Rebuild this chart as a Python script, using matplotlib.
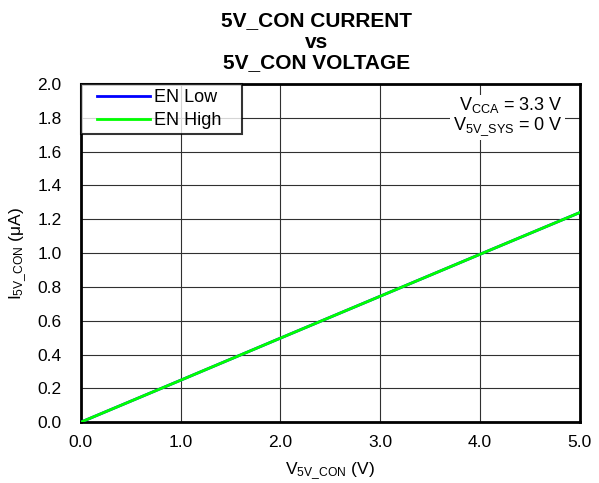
import matplotlib
matplotlib.use("Agg")
import matplotlib.pyplot as plt
import numpy as np
from matplotlib.legend_handler import HandlerLine2D
from matplotlib.lines import Line2D

plt.rcParams['font.family'] = ['Liberation Sans', 'DejaVu Sans']
plt.rcParams['mathtext.fontset'] = 'custom'
plt.rcParams['mathtext.rm'] = 'Liberation Sans'
plt.rcParams['mathtext.it'] = 'Liberation Sans'

voltage = [0.0, 1.0, 2.0, 3.0, 4.0, 5.0]
en_low = [0.0, 0.248, 0.497, 0.745, 0.993, 1.24]
en_high = [0.0, 0.248, 0.497, 0.745, 0.993, 1.24]
xticks = [0.0, 1.0, 2.0, 3.0, 4.0, 5.0]
yticks = [0.0, 0.2, 0.4, 0.6, 0.8, 1.0, 1.2, 1.4, 1.6, 1.8, 2.0]


class PaddedLineHandler(HandlerLine2D):
    def create_artists(self, legend, orig_handle, xdescent, ydescent, width,
                       height, fontsize, trans):
        arts = super().create_artists(legend, orig_handle, xdescent, ydescent,
                                      width, height, fontsize, trans)
        for a in arts:
            if isinstance(a, Line2D):
                xd = np.asarray(a.get_xdata(), dtype=float)
                if len(xd) >= 2:
                    a.set_xdata(np.linspace(width * 0.17, xd[-1], len(xd)))
        return arts


fig = plt.figure(figsize=(5.99, 4.83), dpi=100)
ax = fig.add_axes([0.135, 0.126, 0.833, 0.700])

ax.plot(voltage, en_low, color='#0000ff', lw=2, label='EN Low', zorder=3)
ax.plot(voltage, en_high, color='#00ff00', lw=2, label='EN High', zorder=4)

ax.set_xlim(0, 5)
ax.set_ylim(0, 2)
ax.set_xticks(xticks)
ax.set_xticklabels([f'{v:.1f}' for v in xticks])
ax.set_yticks(yticks)
ax.set_yticklabels([f'{v:.1f}' for v in yticks])
ax.tick_params(axis='y', length=0, labelsize=12.5, pad=14)
ax.tick_params(axis='x', length=0, labelsize=12.5, pad=9)
ax.grid(True, color='#303030', lw=0.8)
for s in ax.spines.values():
    s.set_linewidth(2)
    s.set_color('black')

ax.set_xlabel(r'$\mathregular{V_{5V\_CON}}$ (V)', fontsize=12.5, labelpad=8)
ax.set_ylabel(r'$\mathregular{I_{5V\_CON}}$ ($\mathregular{\mu}$A)', fontsize=12.5, labelpad=6)
tx = 0.528
fig.text(tx, 0.958, '5V_CON CURRENT', ha='center', va='center', fontsize=15, fontweight='bold')
fig.text(tx, 0.913, 'vs', ha='center', va='center', fontsize=15, fontweight='bold')
fig.text(tx, 0.870, '5V_CON VOLTAGE', ha='center', va='center', fontsize=15, fontweight='bold')

h, l = ax.get_legend_handles_labels()
leg = ax.legend(h, [lab + '   ' for lab in l], loc='upper left', fontsize=13,
                handlelength=3.55, borderaxespad=0,
                frameon=True, fancybox=False, borderpad=0.3, labelspacing=0.3,
                handletextpad=0.2,
                handler_map={Line2D: PaddedLineHandler()})
leg.get_frame().set_edgecolor('black')
leg.get_frame().set_linewidth(1.5)
leg.set_zorder(5)

ax.text(0.965, 0.905, r'$\mathregular{V_{CCA}}$ = 3.3 V' + '\n' + r'$\mathregular{V_{5V\_SYS}}$ = 0 V',
        transform=ax.transAxes, ha='right', va='center', fontsize=13, linespacing=1.05,
        bbox=dict(facecolor='white', edgecolor='none', pad=2), zorder=5)

fig.savefig('out.png', dpi=100)
